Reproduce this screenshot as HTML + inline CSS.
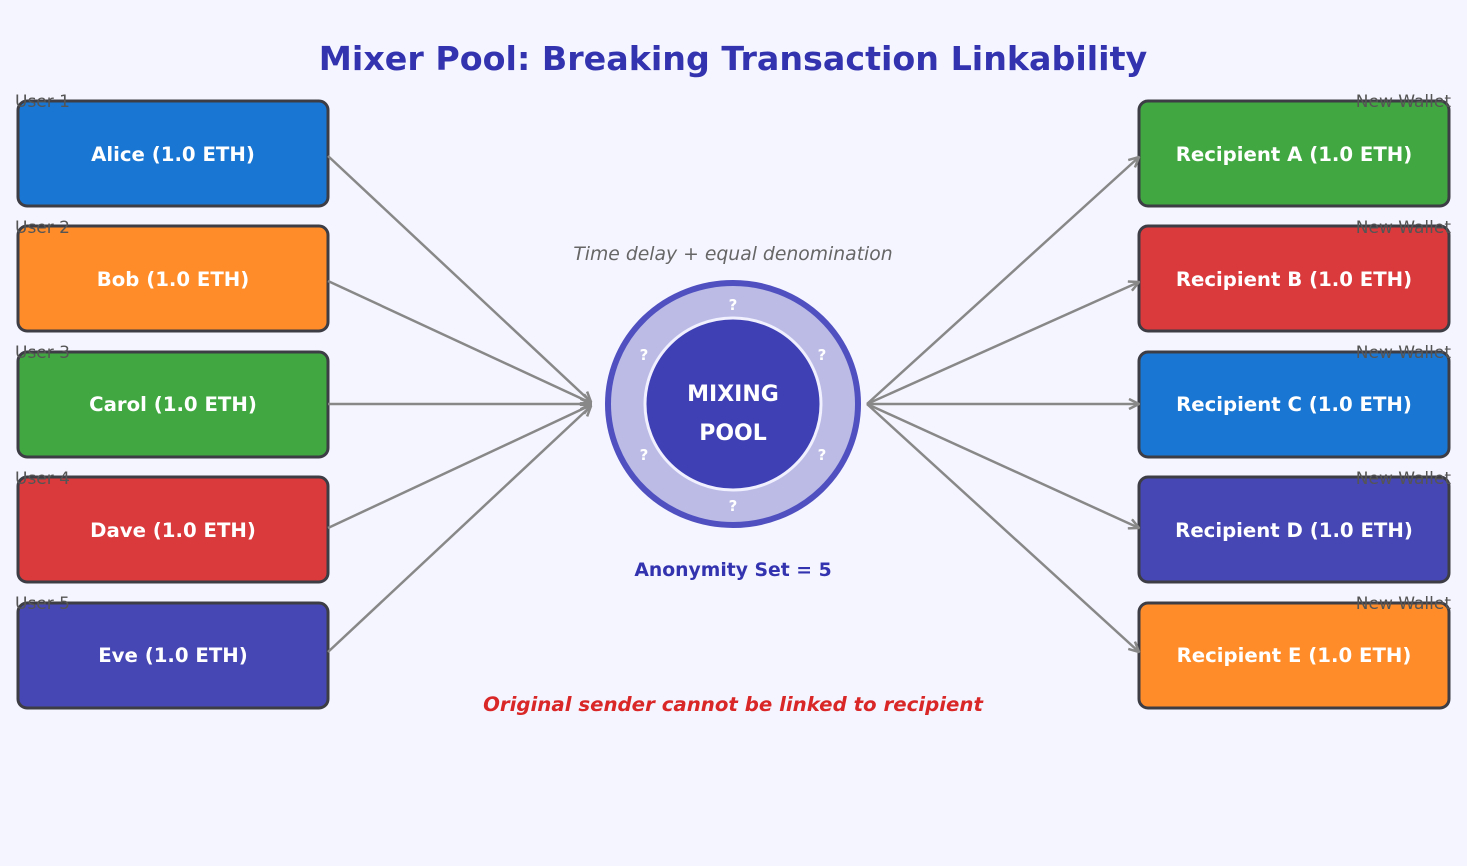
<!DOCTYPE html>
<html><head><meta charset="utf-8"><style>
html,body{margin:0;padding:0;background:#f5f5ff;}
svg{display:block;font-family:"DejaVu Sans","Liberation Sans",sans-serif;}
</style></head><body>
<svg width="1467" height="866" viewBox="0 0 1467 866" xmlns="http://www.w3.org/2000/svg">
<rect width="1467" height="866" fill="#f5f5ff"/>
<text x="733" y="70" text-anchor="middle" font-size="33.3" font-weight="bold" fill="#3333b0">Mixer Pool: Breaking Transaction Linkability</text>

<g stroke="#3d3d45" stroke-width="3">
<rect x="18" y="101" width="310" height="105" rx="9" fill="#1976d2"/>
<rect x="18" y="226" width="310" height="105" rx="9" fill="#ff8c28"/>
<rect x="18" y="352" width="310" height="105" rx="9" fill="#41a841"/>
<rect x="18" y="477" width="310" height="105" rx="9" fill="#da3a3c"/>
<rect x="18" y="603" width="310" height="105" rx="9" fill="#4646b4"/>
<rect x="1139" y="101" width="310" height="105" rx="9" fill="#41a841"/>
<rect x="1139" y="226" width="310" height="105" rx="9" fill="#da3a3c"/>
<rect x="1139" y="352" width="310" height="105" rx="9" fill="#1976d2"/>
<rect x="1139" y="477" width="310" height="105" rx="9" fill="#4646b4"/>
<rect x="1139" y="603" width="310" height="105" rx="9" fill="#ff8c28"/>
</g>
<g font-size="17" fill="#555">
<text x="15" y="107">User 1</text><text x="15" y="233">User 2</text><text x="15" y="358">User 3</text><text x="15" y="484">User 4</text><text x="15" y="609">User 5</text>
<text x="1451" y="107" text-anchor="end">New Wallet</text><text x="1451" y="233" text-anchor="end">New Wallet</text><text x="1451" y="358" text-anchor="end">New Wallet</text><text x="1451" y="484" text-anchor="end">New Wallet</text><text x="1451" y="609" text-anchor="end">New Wallet</text>
</g>
<g font-size="19.7" font-weight="bold" fill="#fff" text-anchor="middle">
<text x="173" y="161">Alice (1.0 ETH)</text>
<text x="173" y="286">Bob (1.0 ETH)</text>
<text x="173" y="411">Carol (1.0 ETH)</text>
<text x="173" y="537">Dave (1.0 ETH)</text>
<text x="173" y="662">Eve (1.0 ETH)</text>
<text x="1294" y="161">Recipient A (1.0 ETH)</text>
<text x="1294" y="286">Recipient B (1.0 ETH)</text>
<text x="1294" y="411">Recipient C (1.0 ETH)</text>
<text x="1294" y="537">Recipient D (1.0 ETH)</text>
<text x="1294" y="662">Recipient E (1.0 ETH)</text>
</g>

<defs>
<marker id="a" markerWidth="12" markerHeight="12" refX="11" refY="6" orient="auto" markerUnits="userSpaceOnUse">
<path d="M1,1 L11,6 L1,11" fill="none" stroke="#888" stroke-width="2.5"/>
</marker>
</defs>
<g stroke="#888" stroke-width="2.5" fill="none" marker-end="url(#a)">
<line x1="328" y1="156" x2="591" y2="402"/>
<line x1="328" y1="281" x2="591" y2="403"/>
<line x1="328" y1="404" x2="591" y2="404"/>
<line x1="328" y1="528" x2="591" y2="405"/>
<line x1="328" y1="652" x2="591" y2="406"/>
<line x1="867" y1="404" x2="1139" y2="157"/>
<line x1="867" y1="404" x2="1139" y2="282"/>
<line x1="867" y1="404" x2="1139" y2="404"/>
<line x1="867" y1="404" x2="1139" y2="528"/>
<line x1="867" y1="404" x2="1139" y2="652"/>
</g>

<text x="733" y="260" text-anchor="middle" font-size="18.8" font-style="italic" fill="#666">Time delay + equal denomination</text>
<ellipse cx="733" cy="404" rx="125" ry="121" fill="#bbbbe6" stroke="#5050c0" stroke-width="6"/>
<ellipse cx="733" cy="404" rx="88" ry="86" fill="#3f40b4" stroke="#f0f0ff" stroke-width="3"/>
<g font-size="15" font-weight="bold" fill="#fff" text-anchor="middle">
<text x="733" y="310">?</text><text x="644" y="360">?</text><text x="822" y="360">?</text>
<text x="644" y="460">?</text><text x="822" y="460">?</text><text x="733" y="511">?</text>
</g>
<text x="733" y="401" text-anchor="middle" font-size="22" font-weight="bold" fill="#fff">MIXING</text>
<text x="733" y="440" text-anchor="middle" font-size="22" font-weight="bold" fill="#fff">POOL</text>
<text x="733" y="576" text-anchor="middle" font-size="18.8" font-weight="bold" fill="#3333b0">Anonymity Set = 5</text>
<text x="733" y="711" text-anchor="middle" font-size="19.75" font-weight="bold" font-style="italic" fill="#d92626">Original sender cannot be linked to recipient</text>
</svg>
</body></html>
